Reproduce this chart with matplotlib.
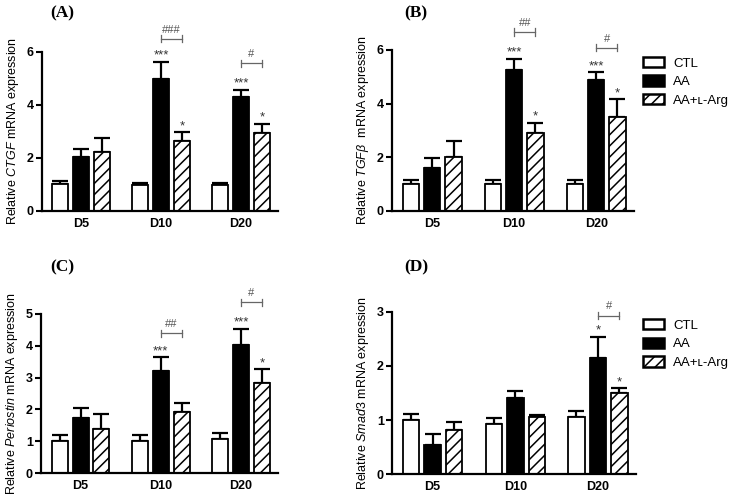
import matplotlib
matplotlib.use("Agg")
import matplotlib.pyplot as plt
import numpy as np
from matplotlib.patches import Patch

plt.rcParams['font.family'] = ['Liberation Sans', 'DejaVu Sans']
plt.rcParams['mathtext.fontset'] = 'custom'
plt.rcParams['mathtext.it'] = 'Liberation Sans:italic'
plt.rcParams['mathtext.rm'] = 'Liberation Sans'
plt.rcParams['hatch.linewidth'] = 1.1

days = ["D5", "D10", "D20"]
groups = ["CTL", "AA", "AA+ʟ-Arg"]

# mean values per group (rows: CTL, AA, AA+L-Arg; cols: D5, D10, D20)
ctgf = [[1.02, 0.96, 0.97], [2.05, 4.98, 4.30], [2.24, 2.64, 2.94]]
ctgf_err = [[0.10, 0.10, 0.10], [0.30, 0.65, 0.27], [0.50, 0.33, 0.35]]
tgfb = [[1.02, 1.02, 1.02], [1.60, 5.27, 4.87], [2.00, 2.91, 3.49]]
tgfb_err = [[0.13, 0.13, 0.13], [0.37, 0.41, 0.30], [0.62, 0.37, 0.67]]
postn = [[1.02, 1.01, 1.07], [1.74, 3.22, 4.03], [1.40, 1.92, 2.82]]
postn_err = [[0.18, 0.20, 0.18], [0.30, 0.42, 0.50], [0.45, 0.28, 0.44]]
smad3 = [[1.01, 0.93, 1.05], [0.54, 1.40, 2.14], [0.82, 1.05, 1.50]]
smad3_err = [[0.10, 0.10, 0.12], [0.20, 0.14, 0.40], [0.15, 0.04, 0.09]]

# significance vs CTL (AA row, AA+L-Arg row)
ctgf_stars = [["", "***", "***"], ["", "*", "*"]]
tgfb_stars = [["", "***", "***"], ["", "*", "*"]]
postn_stars = [["", "***", "***"], ["", "", "*"]]
smad3_stars = [["", "", "*"], ["", "", "*"]]

# AA vs AA+L-Arg brackets: (day index, label, level)
ctgf_hash = [(1, "###", 6.5), (2, "#", 5.57)]
tgfb_hash = [(1, "##", 6.67), (2, "#", 6.08)]
postn_hash = [(1, "##", 4.39), (2, "#", 5.36)]
smad3_hash = [(2, "#", 2.93)]

ctgf_ticks = [0, 2, 4, 6]
tgfb_ticks = [0, 2, 4, 6]
postn_ticks = [0, 1, 2, 3, 4, 5]
smad3_ticks = [0, 1, 2, 3]


def panel(ax, vals, errs, stars, hashes, ticks, ylabel):
    x = np.arange(len(days))
    w = 0.2
    step = 0.26
    faces = ["white", "black", "white"]
    hatches = [None, None, "///"]
    for i in range(3):
        pos = x + (i - 1) * step
        ax.bar(pos, vals[i], w, color=faces[i], edgecolor="black",
               linewidth=1.3, hatch=hatches[i], zorder=2)
        ax.errorbar(pos, vals[i], yerr=[np.zeros(3), errs[i]], fmt="none",
                    ecolor="black", elinewidth=1.6, capsize=6,
                    capthick=1.6, zorder=1)
    for i in range(2):
        for d in range(3):
            if stars[i][d]:
                top = vals[i + 1][d] + errs[i + 1][d]
                ax.annotate(stars[i][d], (x[d] + i * step, top),
                            xytext=(0, 0), textcoords="offset points",
                            ha="center", va="bottom", fontsize=9.5,
                            color="#333333", annotation_clip=False)
    # brackets between AA and AA+L-Arg
    for d, lab, lvl in hashes:
        x0, x1 = x[d], x[d] + step
        tk = ticks[-1] * 0.022
        ax.plot([x0, x1], [lvl, lvl], color="#666666", lw=0.9,
                clip_on=False)
        for xe in (x0, x1):
            ax.plot([xe, xe], [lvl - tk, lvl + tk],
                    color="#666666", lw=0.9, clip_on=False)
        ax.annotate(lab, ((x0 + x1) / 2, lvl), xytext=(0, 3),
                    textcoords="offset points", ha="center", va="bottom",
                    fontsize=8, color="#555555", annotation_clip=False)

    ax.set_xlim(-0.49, 2.46)
    ax.set_ylim(0, ticks[-1])
    ax.set_yticks(ticks)
    ax.set_xticks(x)
    ax.set_xticklabels(days, fontweight="bold", fontsize=9)
    for t in ax.get_yticklabels():
        t.set_fontweight("bold")
        t.set_fontsize(9)
    ax.tick_params(axis="x", length=0, pad=5)
    ax.tick_params(axis="y", length=4, width=1.5, pad=2)
    ax.spines["top"].set_visible(False)
    ax.spines["right"].set_visible(False)
    ax.spines["left"].set_linewidth(1.6)
    ax.spines["bottom"].set_linewidth(1.6)
    ax.set_ylabel(ylabel, fontsize=9, labelpad=4)


fig = plt.figure(figsize=(7.37, 4.95), dpi=100)
axA = fig.add_axes([0.057, 0.574, 0.320, 0.321])
axB = fig.add_axes([0.532, 0.574, 0.328, 0.325])
axC = fig.add_axes([0.056, 0.044, 0.321, 0.322])
axD = fig.add_axes([0.532, 0.042, 0.331, 0.328])

panel(axA, ctgf, ctgf_err, ctgf_stars, ctgf_hash, ctgf_ticks,
      r"Relative $\it{CTGF}$ mRNA expression")
panel(axB, tgfb, tgfb_err, tgfb_stars, tgfb_hash, tgfb_ticks,
      r"Relative $\it{TGFβ}$  mRNA expression")
panel(axC, postn, postn_err, postn_stars, postn_hash, postn_ticks,
      r"Relative $\it{Periostin}$ mRNA expression")
panel(axD, smad3, smad3_err, smad3_stars, smad3_hash, smad3_ticks,
      r"Relative $\it{Smad3}$ mRNA expression")

for lab, fx, fy in [("(A)", 0.068, 0.973), ("(B)", 0.549, 0.973),
                    ("(C)", 0.068, 0.460), ("(D)", 0.549, 0.460)]:
    fig.text(fx, fy, lab, fontsize=12.5, fontweight="bold",
             family="Liberation Serif", ha="left", va="center")

handles = [Patch(facecolor="white", edgecolor="black", linewidth=1.8),
           Patch(facecolor="black", edgecolor="black", linewidth=1.8),
           Patch(facecolor="white", edgecolor="black", linewidth=1.8,
                 hatch="///")]
for ly in [0.885, 0.355]:
    fig.legend(handles, groups, loc="upper left",
               bbox_to_anchor=(0.872, ly), frameon=False, fontsize=9.5,
               handlelength=1.6, handleheight=0.8, handletextpad=0.7,
               labelspacing=0.45, borderpad=0, borderaxespad=0)

fig.savefig("out.png", dpi=100)
